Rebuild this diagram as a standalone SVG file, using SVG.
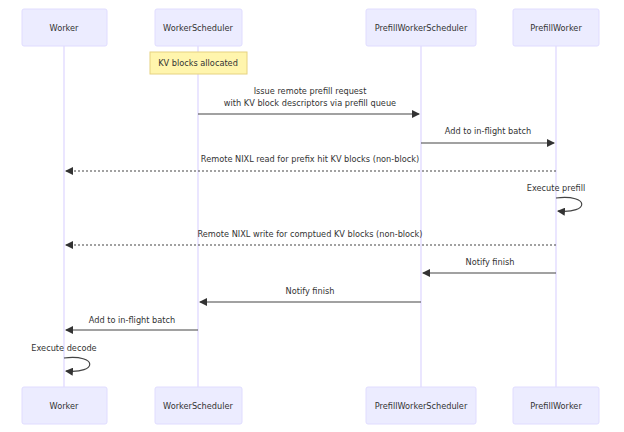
<svg xmlns="http://www.w3.org/2000/svg" width="624" height="432" viewBox="0 0 624 432">
<style>
.box{fill:#ECECFF;stroke:#e0dcff;stroke-width:1}
.life{stroke:#ddd6ff;stroke-width:1.2}
text{font-family:"DejaVu Sans",sans-serif;font-size:8.2px;fill:#333;text-anchor:middle}
.msg{stroke:#444;stroke-width:1.2;fill:none}
.dot{stroke-dasharray:2,2}
.note{fill:#fff5ad;stroke:#e6d280}
</style>
<defs><marker id="a" markerWidth="8" markerHeight="8" refX="7" refY="4" orient="auto" markerUnits="userSpaceOnUse"><path d="M0,0L8,4L0,8z" fill="#333"/></marker></defs>
<g id="lifelines">
<line class="life" x1="64" y1="46" x2="64" y2="387"/>
<line class="life" x1="198" y1="46" x2="198" y2="387"/>
<line class="life" x1="421" y1="46" x2="421" y2="387"/>
<line class="life" x1="556" y1="46" x2="556" y2="387"/>
</g>
<g id="Worker"><rect class="box" x="22" y="9" width="85" height="37" rx="2"/><text x="64" y="31">Worker</text>
<rect class="box" x="22" y="387" width="85" height="37" rx="2"/><text x="64" y="409">Worker</text></g>
<g id="WorkerScheduler"><rect class="box" x="155" y="9" width="87" height="37" rx="2"/><text x="198" y="31">WorkerScheduler</text>
<rect class="box" x="155" y="387" width="87" height="37" rx="2"/><text x="198" y="409">WorkerScheduler</text></g>
<g id="PrefillWorkerScheduler"><rect class="box" x="366" y="9" width="110" height="37" rx="2"/><text x="421" y="31">PrefillWorkerScheduler</text>
<rect class="box" x="366" y="387" width="110" height="37" rx="2"/><text x="421" y="409">PrefillWorkerScheduler</text></g>
<g id="PrefillWorker"><rect class="box" x="513" y="9" width="86" height="37" rx="2"/><text x="556" y="31">PrefillWorker</text>
<rect class="box" x="513" y="387" width="86" height="37" rx="2"/><text x="556" y="409">PrefillWorker</text></g>
<g id="note"><rect class="note" x="150" y="52" width="97" height="22"/><text x="198" y="66">KV blocks allocated</text></g>
<g id="connectors">
<text x="310" y="94">Issue remote prefill request</text>
<text x="310" y="106">with KV block descriptors via prefill queue</text>
<line class="msg" x1="198" y1="114" x2="419" y2="114" marker-end="url(#a)"/>
<text x="488" y="134">Add to in-flight batch</text>
<line class="msg" x1="421" y1="143" x2="554" y2="143" marker-end="url(#a)"/>
<text x="310" y="162">Remote NIXL read for prefix hit KV blocks (non-block)</text>
<line class="msg dot" x1="556" y1="171" x2="66" y2="171" marker-end="url(#a)"/>
<text x="556" y="191">Execute prefill</text>
<path class="msg" d="M556,198 C590,194 590,214 558,211" marker-end="url(#a)"/>
<text x="310" y="237">Remote NIXL write for comptued KV blocks (non-block)</text>
<line class="msg dot" x1="556" y1="245" x2="66" y2="245" marker-end="url(#a)"/>
<text x="490" y="265">Notify finish</text>
<line class="msg" x1="556" y1="273" x2="423" y2="273" marker-end="url(#a)"/>
<text x="310" y="294">Notify finish</text>
<line class="msg" x1="421" y1="302" x2="200" y2="302" marker-end="url(#a)"/>
<text x="132" y="323">Add to in-flight batch</text>
<line class="msg" x1="198" y1="330" x2="66" y2="330" marker-end="url(#a)"/>
<text x="64" y="351">Execute decode</text>
<path class="msg" d="M64,358 C98,354 98,374 66,371" marker-end="url(#a)"/>
</g>
</svg>
